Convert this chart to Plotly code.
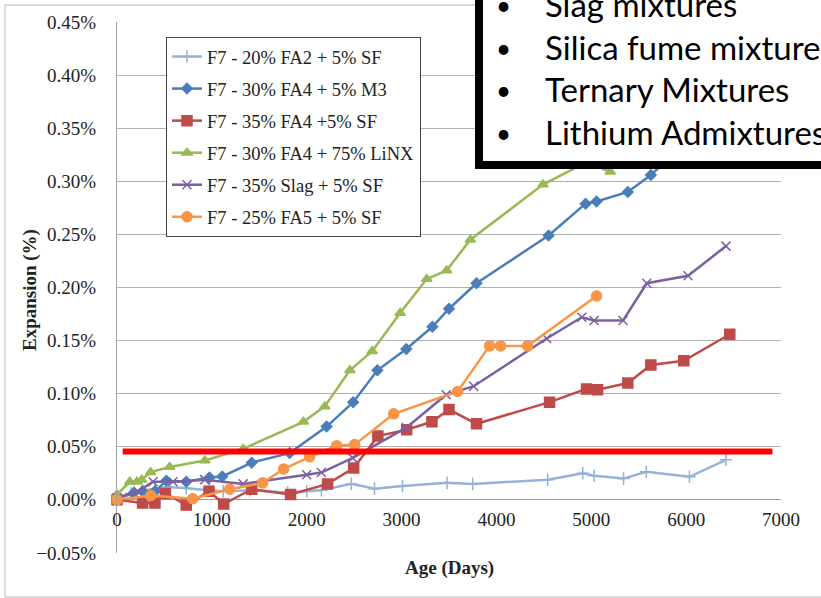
import plotly.graph_objects as go

# ---- data (Age in days, expansion in %) ----
fa2_days = [0, 150, 270, 400, 540, 730, 975, 1120, 1400, 1800, 2000, 2155, 2470, 2715, 3010, 3480, 3750, 4540, 4910, 5030, 5340, 5580, 6035, 6420]
fa2_vals = [0, 0.006, 0.009, 0.010, 0.012, 0.011, 0.009, 0.008, 0.009, 0.007, 0.008, 0.009, 0.015, 0.0105, 0.013, 0.016, 0.015, 0.019, 0.025, 0.0226, 0.020, 0.0264, 0.0217, 0.0377]

m3_days = [0, 170, 270, 400, 520, 730, 975, 1110, 1420, 1820, 2210, 2490, 2745, 3050, 3325, 3500, 3790, 4550, 4940, 5055, 5385, 5628, 5980]
m3_vals = [0.002, 0.006, 0.008, 0.008, 0.018, 0.017, 0.021, 0.022, 0.035, 0.044, 0.069, 0.092, 0.122, 0.142, 0.163, 0.180, 0.204, 0.249, 0.279, 0.281, 0.290, 0.306, 0.335]

fa4sf_days = [0, 270, 400, 510, 730, 970, 1125, 1420, 1830, 2220, 2495, 2750, 3054, 3320, 3500, 3790, 4560, 4950, 5066, 5385, 5628, 5975, 6460]
fa4sf_vals = [0, -0.003, -0.003, 0.006, -0.005, 0.008, -0.004, 0.010, 0.005, 0.015, 0.030, 0.060, 0.066, 0.0735, 0.085, 0.0716, 0.092, 0.1045, 0.1036, 0.110, 0.127, 0.131, 0.156]

linx_days = [0, 135, 210, 260, 355, 555, 925, 1330, 1965, 2190, 2455, 2690, 2985, 3265, 3475, 3725, 4490, 4950, 5200]
linx_vals = [0.005, 0.017, 0.017, 0.019, 0.026, 0.031, 0.037, 0.048, 0.0735, 0.088, 0.122, 0.140, 0.176, 0.208, 0.216, 0.245, 0.297, 0.318, 0.309]

slag_days = [0, 220, 380, 590, 925, 1330, 2000, 2155, 2485, 3050, 3470, 3760, 4530, 4900, 5030, 5335, 5585, 6020, 6420]
slag_vals = [0.002, 0.008, 0.017, 0.017, 0.019, 0.015, 0.0236, 0.0257, 0.0395, 0.068, 0.099, 0.107, 0.152, 0.172, 0.169, 0.169, 0.204, 0.211, 0.239]

fa5_days = [0, 355, 798, 1188, 1536, 1757, 2031, 2316, 2506, 2917, 3591, 3928, 4044, 4329, 5056]
fa5_vals = [0, 0.004, 0.001, 0.010, 0.016, 0.029, 0.0405, 0.051, 0.052, 0.081, 0.102, 0.145, 0.145, 0.145, 0.192]

names = ["F7 - 20% FA2 + 5% SF", "F7 - 30% FA4 + 5% M3", "F7 - 35% FA4 +5% SF",
         "F7 - 30% FA4 + 75% LiNX", "F7 - 35% Slag + 5% SF", "F7 - 25% FA5 + 5% SF"]
colors = ["#95B3D7", "#4A7EBB", "#BE4B48", "#98B954", "#7D60A0", "#F79646"]
symbols = ["cross-thin", "diamond", "square", "triangle-up", "x-thin", "circle"]
sizes = [9, 8, 10, 9, 9, 10]
xs = [fa2_days, m3_days, fa4sf_days, linx_days, slag_days, fa5_days]
ys = [fa2_vals, m3_vals, fa4sf_vals, linx_vals, slag_vals, fa5_vals]

threshold = 0.0455
red_x = [60, 6910]

bullets = ["Slag mixtures", "Silica fume mixtures", "Ternary Mixtures", "Lithium Admixtures"]

fig = go.Figure()
for i in range(6):
    fig.add_trace(go.Scatter(
        x=xs[i], y=ys[i], name=names[i], mode="lines+markers", legendgroup=str(i),
        line=dict(color=colors[i], width=2.5),
        marker=dict(symbol=symbols[i], size=sizes[i], color=colors[i],
                    line=dict(color=colors[i], width=1.5)),
        cliponaxis=False,
    ))

L, R, T, B = 117, 40, 22, 45
W, H = 821, 598
pw, ph = W - L - R, H - T - B
def px(x):
    return (x - L) / pw
def py(y):
    return (H - B - y) / ph

fig.update_layout(
    width=W, height=H,
    margin=dict(l=L, r=R, t=T, b=B),
    paper_bgcolor="white", plot_bgcolor="white",
    font=dict(family="Liberation Serif, Times New Roman, serif", size=19, color="#222"),
    showlegend=True,
    legend=dict(x=px(166), y=py(37), xanchor="left", yanchor="top",
                bgcolor="white", bordercolor="#444", borderwidth=1,
                font=dict(size=18.5, color="#222"), itemwidth=30,
                tracegroupgap=5),
    xaxis=dict(range=[0, 7000], dtick=1000, showgrid=False, zeroline=False,
               showline=False, anchor="free", position=0.1,
               ticks="", ticklabelstandoff=6, tickfont=dict(size=19, color="#222")),
    yaxis=dict(range=[-0.0501, 0.4501], dtick=0.05, tickformat=".2f", ticksuffix="%",
               showgrid=True, gridcolor="#B0B0B0", gridwidth=1,
               zeroline=True, zerolinecolor="#A0A0A0", zerolinewidth=1,
               showline=True, linecolor="#A0A0A0", linewidth=1,
               ticks="", ticklabelstandoff=16, tickfont=dict(size=19, color="#222")),
)

shapes = [
    # outer chart border
    dict(type="rect", xref="paper", yref="paper", x0=px(5), x1=px(830), y0=py(597), y1=py(5),
         line=dict(color="#B8B8B8", width=1), layer="below"),
    # threshold red line
    dict(type="line", xref="x", yref="y", x0=red_x[0], x1=red_x[1], y0=threshold, y1=threshold,
         line=dict(color="#FF0000", width=6), layer="above"),
    # overlay box
    dict(type="rect", xref="paper", yref="paper", x0=px(479), x1=px(840), y0=py(165), y1=py(-20),
         line=dict(color="black", width=8), fillcolor="white", layer="above"),
]
fig.update_layout(shapes=shapes)

ann = [
    dict(text="<b>Age (Days)</b>", xref="paper", yref="paper", x=px(449), y=py(568),
         showarrow=False, xanchor="center", yanchor="middle", font=dict(size=19, color="#222")),
    dict(text="<b>Expansion (%)</b>", xref="paper", yref="paper", x=px(30), y=py(290),
         showarrow=False, textangle=-90, xanchor="center", yanchor="middle", font=dict(size=19, color="#222")),
]
centers = [4, 47, 89, 132]
for t, c in zip(bullets, centers):
    ann.append(dict(text="•", xref="paper", yref="paper", x=px(503), y=py(c + 1), showarrow=False,
                    xanchor="center", yanchor="middle", font=dict(family="Lato, sans-serif", size=26, color="black")))
    ann.append(dict(text=t, xref="paper", yref="paper", x=px(543), y=py(c), showarrow=False,
                    xanchor="left", yanchor="middle", font=dict(family="Lato, sans-serif", size=33, color="black")))
fig.update_layout(annotations=ann)

fig.write_html("out.html")
